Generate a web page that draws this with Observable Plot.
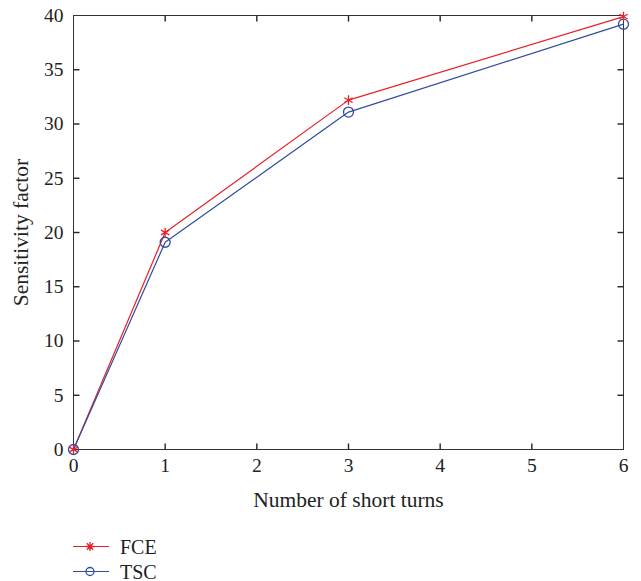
<!DOCTYPE html>
<html>
<head>
<meta charset="utf-8">
<script src="https://cdn.jsdelivr.net/npm/d3@7"></script>
<script src="https://cdn.jsdelivr.net/npm/@observablehq/plot@0.6"></script>
<style>
  body { margin: 0; background: #fff; }
  #chart { width: 641px; font-family: "Liberation Serif", "DejaVu Serif", serif; }
  .legend { margin-left: 73px; margin-top: 14px; font-size: 20px; color: #222; }
  .legend div { display: flex; align-items: center; height: 25px; }
  .legend span { line-height: 18px; }
  .legend svg { margin-right: 11px; }
</style>
</head>
<body>
<div id="chart"></div>
<script>
const shortTurns = [0, 1, 3, 6];
const fce = [0, 20.0, 32.2, 39.9];
const tsc = [0, 19.1, 31.1, 39.2];
const seriesNames = ["FCE", "TSC"];
const seriesColors = ["#e8202a", "#2f4da0"];
const xTicks = [0, 1, 2, 3, 4, 5, 6];
const yTicks = [0, 5, 10, 15, 20, 25, 30, 35, 40];

const rows = [];
shortTurns.forEach((t, i) => {
  rows.push({turns: t, value: fce[i], series: seriesNames[0]});
  rows.push({turns: t, value: tsc[i], series: seriesNames[1]});
});
const fceRows = rows.filter(d => d.series === "FCE");
const tscRows = rows.filter(d => d.series === "TSC");

const tick = 6;
const innerX = xTicks.slice(1, -1).map(v => ({v}));
const innerY = yTicks.slice(1, -1).map(v => ({v}));
// inward tick glyphs (drawn as custom symbols anchored on the frame edges)
const tickSym = (dx, dy) => ({draw(ctx) { ctx.moveTo(0, 0); ctx.lineTo(dx, dy); }});
const tickStyle = {stroke: "#222", strokeWidth: 1.4, fill: "none", r: 3};

const font = "Liberation Serif, DejaVu Serif, serif";
const plot = Plot.plot({
  width: 641,
  height: 520,
  marginTop: 15,
  marginLeft: 73,
  marginRight: 18,
  marginBottom: 71,
  style: {fontFamily: font, fontSize: "19.5px", color: "#222", background: "#fff"},
  x: {domain: [0, 6]},
  y: {domain: [0, 40]},
  marks: [
    Plot.frame({stroke: "#333", strokeWidth: 1}),
    Plot.axisX({anchor: "bottom", ticks: xTicks, tickFormat: "d", tickSize: 0, tickPadding: 9, label: null, fontSize: 19.5}),
    Plot.axisY({anchor: "left", ticks: yTicks, tickFormat: "d", tickSize: 0, tickPadding: 10, label: null, fontSize: 19.5}),
    Plot.dot(innerX, {x: "v", frameAnchor: "bottom", symbol: tickSym(0, -tick), ...tickStyle}),
    Plot.dot(innerX, {x: "v", frameAnchor: "top", symbol: tickSym(0, tick), ...tickStyle}),
    Plot.dot(innerY, {y: "v", frameAnchor: "left", symbol: tickSym(tick, 0), ...tickStyle}),
    Plot.dot(innerY, {y: "v", frameAnchor: "right", symbol: tickSym(-tick, 0), ...tickStyle}),
    Plot.line(fceRows, {x: "turns", y: "value", stroke: seriesColors[0], strokeWidth: 1.2}),
    Plot.line(tscRows, {x: "turns", y: "value", stroke: seriesColors[1], strokeWidth: 1.2}),
    Plot.dot(tscRows, {x: "turns", y: "value", stroke: seriesColors[1], symbol: "circle", r: 5, strokeWidth: 1.3}),
    Plot.dot(fceRows, {x: "turns", y: "value", stroke: seriesColors[0], symbol: "asterisk", r: 4.5, strokeWidth: 1.3}),
    Plot.text(["Number of short turns"], {frameAnchor: "bottom", dy: 57, fontSize: 21.5, fill: "#222", textAnchor: "middle"}),
    Plot.text(["Sensitivity factor"], {frameAnchor: "left", dx: -52, rotate: -90, fontSize: 21.5, fill: "#222", textAnchor: "middle"})
  ]
});
document.getElementById("chart").appendChild(plot);

const legend = document.createElement("div");
legend.className = "legend";
seriesNames.forEach((name, i) => {
  const row = document.createElement("div");
  const sym = i === 0
    ? `<path d="M17 8 v9 M12.5 12.5 h9 M13.8 9.3 l6.4 6.4 M20.2 9.3 l-6.4 6.4" stroke="${seriesColors[i]}" stroke-width="1.3"/>`
    : `<circle cx="17" cy="12.5" r="4" fill="none" stroke="${seriesColors[i]}" stroke-width="1.3"/>`;
  row.innerHTML = `<svg width="36" height="25"><line x1="0" x2="36" y1="12.5" y2="12.5" stroke="${seriesColors[i]}" stroke-width="1.2"/>${sym}</svg><span>${name}</span>`;
  legend.appendChild(row);
});
document.getElementById("chart").appendChild(legend);
</script>
</body>
</html>
